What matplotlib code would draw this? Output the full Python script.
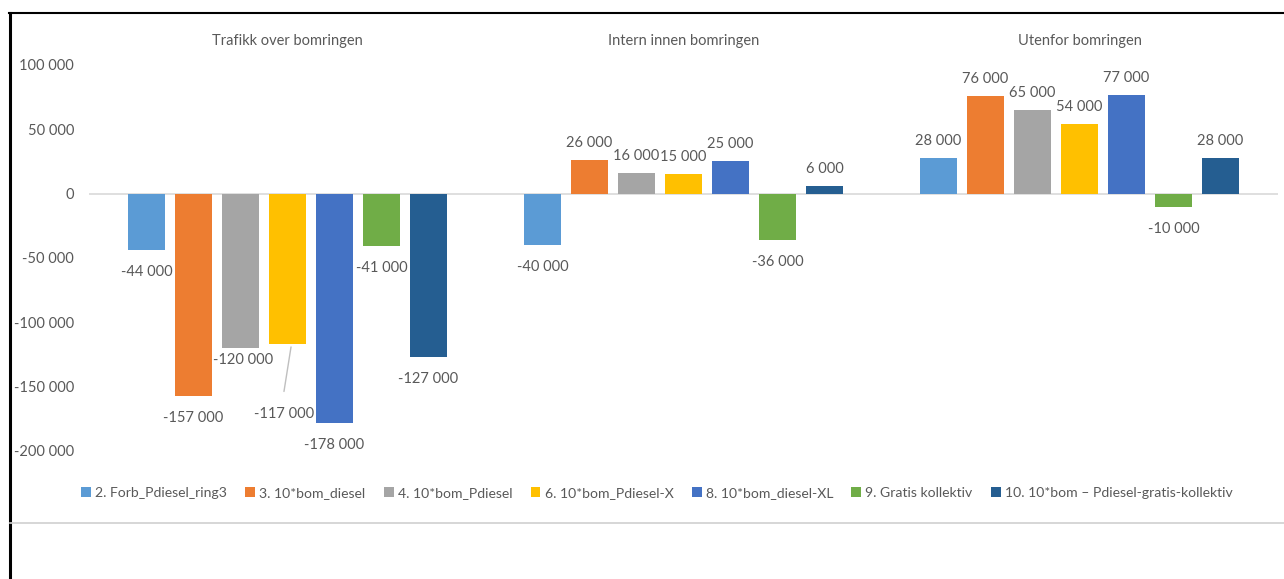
import matplotlib
matplotlib.use("Agg")
import matplotlib.pyplot as plt
from matplotlib import font_manager
from matplotlib.lines import Line2D
from matplotlib.patches import Patch
import numpy as np

groups = ["Trafikk over bomringen", "Intern innen bomringen", "Utenfor bomringen"]
series = [
    "2. Forb_Pdiesel_ring3",
    "3. 10*bom_diesel",
    "4. 10*bom_Pdiesel",
    "6. 10*bom_Pdiesel-X",
    "8. 10*bom_diesel-XL",
    "9. Gratis kollektiv",
    "10. 10*bom – Pdiesel-gratis-kollektiv",
]
values = [
    [-44000, -40000, 28000],
    [-157000, 26000, 76000],
    [-120000, 16000, 65000],
    [-117000, 15000, 54000],
    [-178000, 25000, 77000],
    [-41000, -36000, -10000],
    [-127000, 6000, 28000],
]
colors = ["#5B9BD5", "#ED7D31", "#A5A5A5", "#FFC000", "#4472C4", "#70AD47", "#255E91"]
yticks = [100000, 50000, 0, -50000, -100000, -150000, -200000]

available = {f.name for f in font_manager.fontManager.ttflist}
family = [f for f in ["Lato", "Open Sans", "DejaVu Sans"] if f in available] or ["DejaVu Sans"]
plt.rcParams["font.family"] = family
txt = "#595959"
fs = 10.5

W, H = 1284, 579
fig = plt.figure(figsize=(W / 100, H / 100), dpi=100)

# axes spans the bar area: y from +100000 (px 65) to -200000 (px 451)
x0, x1 = 89.5, 1277.5
ytop, ybot = 65, 451
ax = fig.add_axes([x0 / W, 1 - ybot / H, (x1 - x0) / W, (ybot - ytop) / H])
ax.set_xlim(-0.5, 2.5)
ax.set_ylim(-200000, 100000)
for s in ax.spines.values():
    s.set_visible(False)
ax.set_xticks([])
ax.set_yticks(yticks)
ax.set_yticklabels([f"{v:,}".replace(",", " ") for v in yticks], color=txt, fontsize=fs)
ax.tick_params(axis="y", length=0, pad=11)
ax.axhline(0, color="#D9D9D9", lw=1.2, zorder=1)

step = 47 / 396
width = 37 / 396
x = np.arange(len(groups))
px_per_unit = (ybot - ytop) / 300000.0


def fmt(v):
    return f"{v:,}".replace(",", " ")


label_off = {(2, 0): -10, (3, 0): 48}
label_dx = {(2, 0): 3, (3, 0): -3}
for i, (name, vals, c) in enumerate(zip(series, values, colors)):
    xs = x + (i - 3) * step
    ax.bar(xs, vals, width=width, color=c, zorder=2, label=name)
    for j, (xx, v) in enumerate(zip(xs, vals)):
        extra = label_off.get((i, j), 0)
        dx = label_dx.get((i, j), 0)
        if v >= 0:
            ax.annotate(fmt(v), (xx, v), xytext=(0, 10), textcoords="offset pixels",
                        ha="center", va="bottom", fontsize=fs, color=txt, annotation_clip=False)
        else:
            ax.annotate(fmt(v), (xx, v), xytext=(dx, -15 - extra), textcoords="offset pixels",
                        ha="center", va="top", fontsize=fs, color=txt, annotation_clip=False)
            if (i, j) == (3, 0):
                ax.annotate("", (xx + 0.01, v), xytext=(xx - 0.01, v - 50 / px_per_unit),
                            arrowprops=dict(arrowstyle="-", color="#BFBFBF", lw=1),
                            annotation_clip=False)

for j, g in enumerate(groups):
    ax.text(x[j], 100000 + 24 / px_per_unit, g, ha="center", va="center",
            fontsize=fs, color=txt)

handles = [Patch(facecolor=c, edgecolor="none") for c in colors]
fig.legend(handles, series, loc="center", bbox_to_anchor=(657 / W, 1 - 493 / H),
           ncol=7, frameon=False, fontsize=10.1, labelcolor=txt,
           handlelength=0.7, handleheight=0.7, handletextpad=0.3, columnspacing=1.3)

# frame lines around the chart block
fig.add_artist(Line2D([9 / W, 1], [1 - 13 / H, 1 - 13 / H], color="black", lw=1.5))
fig.add_artist(Line2D([9.5 / W, 9.5 / W], [0, 1 - 13 / H], color="black", lw=2.2))
fig.add_artist(Line2D([10 / W, 1], [1 - 523 / H, 1 - 523 / H], color="#D0D0D0", lw=1.2))

fig.savefig("out.png", dpi=100, facecolor="white")
